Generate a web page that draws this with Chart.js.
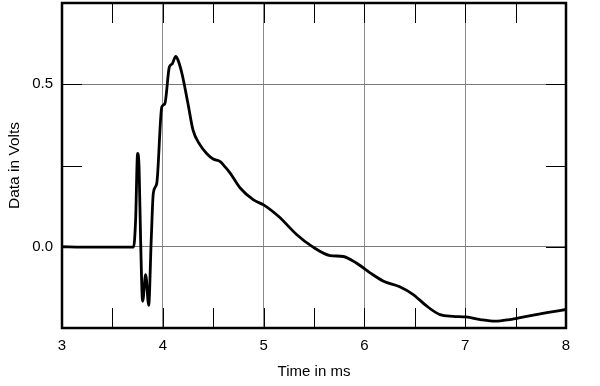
<!DOCTYPE html>
<html>
<head>
<meta charset="utf-8">
<script src="https://cdn.jsdelivr.net/npm/chart.js@4/dist/chart.umd.min.js"></script>
<style>
  html, body { margin: 0; padding: 0; background: #fff; }
  #wrap { width: 600px; height: 386px; }
</style>
</head>
<body>
<div id="wrap"><canvas id="c" width="600" height="386"></canvas></div>
<script>
// ---- data ----
const timeMs = [3.0, 3.2, 3.5, 3.71, 3.73, 3.75, 3.765, 3.78, 3.80, 3.83, 3.86, 3.885, 3.906, 3.94, 3.99, 4.02, 4.065, 4.094, 4.128, 4.15, 4.19, 4.25, 4.30, 4.36, 4.435, 4.50, 4.57, 4.62, 4.67, 4.77, 4.90, 5.0, 5.15, 5.33, 5.48, 5.66, 5.79, 5.92, 6.06, 6.19, 6.35, 6.485, 6.62, 6.75, 6.88, 7.01, 7.15, 7.30, 7.44, 7.61, 7.81, 8.0];
const volts = [0.0, -0.001, -0.001, -0.001, 0.08, 0.287, 0.24, 0.02, -0.168, -0.086, -0.18, 0.02, 0.165, 0.195, 0.43, 0.44, 0.553, 0.563, 0.586, 0.575, 0.533, 0.44, 0.359, 0.318, 0.287, 0.27, 0.262, 0.245, 0.226, 0.18, 0.144, 0.129, 0.093, 0.037, 0.001, -0.027, -0.030, -0.050, -0.081, -0.106, -0.123, -0.147, -0.183, -0.209, -0.214, -0.216, -0.224, -0.229, -0.224, -0.214, -0.203, -0.193];
const xTickValues = [3, 4, 5, 6, 7, 8];
const yTickValues = [0, 0.5];
const yTickLabels = ["0.0", "0.5"];
const xMinorTicks = [3.5, 4, 4.5, 5, 5.5, 6, 6.5, 7, 7.5];
const yMinorTicks = [0, 0.25, 0.5];
const xRange = [3, 8];
const yRange = [-0.25, 0.75];

const points = timeMs.map((t, i) => ({ x: t, y: volts[i] }));

const FONT = "'Liberation Sans', Arial, sans-serif";

const framePlugin = {
  id: 'frame',
  beforeDatasetsDraw(chart) {
    const { ctx, chartArea: a, scales: { x, y } } = chart;
    const L = 20;
    ctx.save();
    ctx.strokeStyle = '#000';
    ctx.lineWidth = 1;
    ctx.beginPath();
    xMinorTicks.forEach(v => {
      const px = Math.round(x.getPixelForValue(v)) + 0.5;
      ctx.moveTo(px, a.top); ctx.lineTo(px, a.top + L);
      ctx.moveTo(px, a.bottom); ctx.lineTo(px, a.bottom - L);
    });
    yMinorTicks.forEach(v => {
      const py = Math.round(y.getPixelForValue(v)) + 0.5;
      ctx.moveTo(a.left, py); ctx.lineTo(a.left + L, py);
      ctx.moveTo(a.right, py); ctx.lineTo(a.right - L, py);
    });
    ctx.stroke();
    ctx.restore();
  },
  afterDraw(chart) {
    const { ctx, chartArea: a } = chart;
    ctx.save();
    ctx.strokeStyle = '#000';
    ctx.lineWidth = 2.5;
    ctx.strokeRect(a.left, a.top, a.right - a.left, a.bottom - a.top);
    ctx.restore();
  }
};

new Chart(document.getElementById('c'), {
  type: 'scatter',
  data: {
    datasets: [{
      data: points,
      showLine: true,
      borderColor: '#000',
      borderWidth: 2.8,
      pointRadius: 0,
      cubicInterpolationMode: 'monotone',
      fill: false
    }]
  },
  options: {
    responsive: false,
    animation: false,
    devicePixelRatio: 1,
    layout: { padding: { top: 3, right: 34, left: 0, bottom: 0 } },
    plugins: { legend: { display: false }, tooltip: { enabled: false } },
    scales: {
      x: {
        type: 'linear',
        min: xRange[0], max: xRange[1],
        afterBuildTicks(s) { s.ticks = xTickValues.map(v => ({ value: v })); },
        afterFit(s) { s.height = 58; },
        grid: { color: '#8a8a8a', lineWidth: 1, drawTicks: false },
        border: { display: false },
        ticks: {
          padding: 9,
          color: '#000',
          font: { family: FONT, size: 15 },
          maxRotation: 0,
          callback: v => String(v)
        },
        title: {
          display: true, text: 'Time in ms', color: '#000',
          font: { family: FONT, size: 15 },
          padding: { top: 5, bottom: 5 }
        }
      },
      y: {
        type: 'linear',
        min: yRange[0], max: yRange[1],
        afterBuildTicks(s) { s.ticks = yTickValues.map(v => ({ value: v })); },
        ticks: {
          padding: 9,
          color: '#000',
          font: { family: FONT, size: 15 },
          callback: v => yTickLabels[yTickValues.indexOf(v)]
        },
        afterFit(s) { s.width = 62; s.paddingTop = 0; s.paddingBottom = 0; },
        grid: { drawTicks: false, lineWidth: 1, color: '#7a7a7a' },
        border: { display: false },
        title: {
          display: true, text: 'Data in Volts', color: '#000',
          font: { family: FONT, size: 15.5 },
          padding: { top: 5, bottom: 0 }
        }
      }
    }
  },
  plugins: [framePlugin]
});
</script>
</body>
</html>
